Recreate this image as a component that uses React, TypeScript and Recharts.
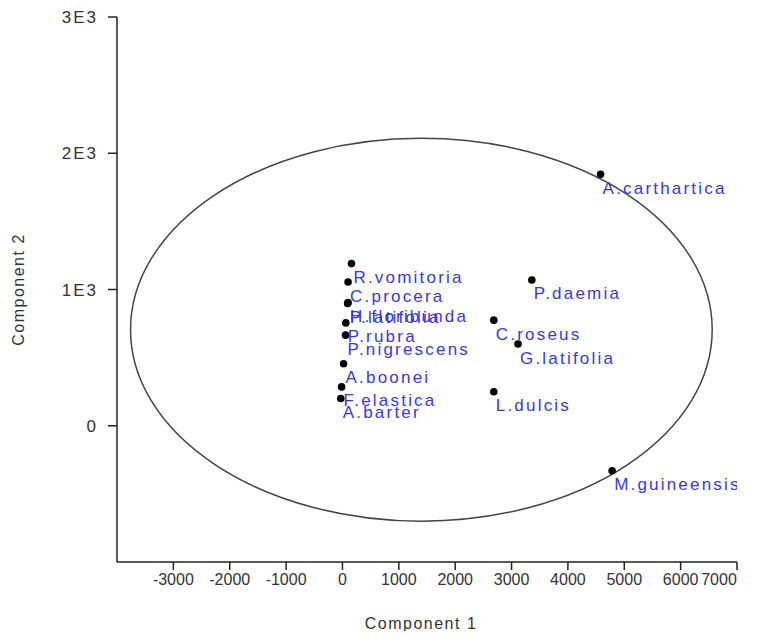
import React from "react";
import {
  ScatterChart,
  Scatter,
  XAxis,
  YAxis,
  ReferenceArea,
} from "recharts";

// Species labels (PCA scores)
const species = [
  "R.vomitoria",
  "C.procera",
  "H.floribunda",
  "P.latifolia",
  "P.rubra",
  "P.nigrescens",
  "A.boonei",
  "F.elastica",
  "A.barter",
  "P.daemia",
  "C.roseus",
  "G.latifolia",
  "L.dulcis",
  "A.carthartica",
  "M.guineensis",
];

// Component 1 scores
const component1 = [160, 100, 100, 92, 60, 55, 20, -15, -30, 3360, 2685, 3115, 2685, 4580, 4785];

// Component 2 scores
const component2 = [1190, 1055, 905, 898, 755, 665, 455, 285, 200, 1070, 775, 600, 250, 1845, -330];

// Axis ticks
const xTickValues = [-3000, -2000, -1000, 0, 1000, 2000, 3000, 4000, 5000, 6000, 7000];
const xTickLabels = ["-3000", "-2000", "-1000", "0", "1000", "2000", "3000", "4000", "5000", "6000", "7000"];
const yTickValues = [0, 1000, 2000, 3000];
const yTickLabels = ["0", "1E3", "2E3", "3E3"];

// Confidence ellipse (center and semi-axes, in data units)
const ellipseCenter = [1400, 705];
const ellipseRadii = [5160, 1405];

const data = species.map((name, i) => ({ name, x: component1[i], y: component2[i] }));

const FONT = '"Liberation Sans", Arial, sans-serif';
const LABEL_COLOR = "#3838e0";

const PointShape = (props: any) => {
  const { cx, cy } = props;
  const name = props.payload?.name ?? props.name;
  return (
    <g>
      <circle cx={cx} cy={cy} r={3.8} fill="#000" />
      <text
        x={cx + 2}
        y={cy + 14}
        dominantBaseline="central"
        fill={LABEL_COLOR}
        fontSize={17}
        letterSpacing={2.2}
        fontFamily={FONT}
      >
        {name}
      </text>
    </g>
  );
};

const XTick = (props: any) => {
  const { x, y, payload } = props;
  const idx = xTickValues.indexOf(payload.value);
  const isLast = idx === xTickValues.length - 1;
  return (
    <text
      x={isLast ? x - 18 : x}
      y={y}
      dy="0.71em"
      textAnchor="middle"
      fill="#333"
      fontSize={16}
      fontFamily={FONT}
    >
      {xTickLabels[idx]}
    </text>
  );
};

const EllipseShape = (props: any) => {
  const x = Math.min(props.x, props.x + props.width);
  const y = Math.min(props.y, props.y + props.height);
  const w = Math.abs(props.width);
  const h = Math.abs(props.height);
  return (
    <ellipse
      cx={x + w / 2}
      cy={y + h / 2}
      rx={w / 2}
      ry={h / 2}
      fill="none"
      stroke="#444"
      strokeWidth={1.5}
    />
  );
};

export default function App() {
  return (
    <div
      style={{
        width: 759,
        height: 639,
        marginLeft: -8,
        marginTop: -8,
        marginBottom: -8,
        background: "#fff",
        overflow: "hidden",
      }}
    >
      <ScatterChart
        width={759}
        height={639}
        margin={{ top: 17, right: 22, bottom: 0, left: 0 }}
        style={{ fontFamily: FONT }}
      >
        <XAxis
          type="number"
          dataKey="x"
          domain={[-4000, 7000]}
          allowDataOverflow
          ticks={xTickValues}
          height={77}
          tickSize={8}
          tickMargin={4}
          axisLine={{ stroke: "#222", strokeWidth: 1.5 }}
          tickLine={{ stroke: "#222", strokeWidth: 1.5 }}
          tick={<XTick />}
          label={{
            value: "Component 1",
            position: "insideBottom",
            offset: 10,
            dx: -6,
            fill: "#333",
            fontSize: 16,
            letterSpacing: 1.5,
            fontFamily: FONT,
          }}
        />
        <YAxis
          type="number"
          dataKey="y"
          domain={[-1000, 3000]}
          allowDataOverflow
          ticks={yTickValues}
          tickFormatter={(v: number) => yTickLabels[yTickValues.indexOf(v)]}
          width={117}
          tickSize={9}
          tickMargin={10}
          axisLine={{ stroke: "#222", strokeWidth: 1.5 }}
          tickLine={{ stroke: "#222", strokeWidth: 1.5 }}
          tick={{ fill: "#333", fontSize: 17, fontFamily: FONT, letterSpacing: 2 }}
          label={{
            value: "Component 2",
            angle: -90,
            position: "insideLeft",
            offset: 18,
            fill: "#333",
            fontSize: 16,
            letterSpacing: 1.5,
            fontFamily: FONT,
            style: { textAnchor: "middle" },
          }}
        />
        <ReferenceArea
          x1={ellipseCenter[0] - ellipseRadii[0]}
          x2={ellipseCenter[0] + ellipseRadii[0]}
          y1={ellipseCenter[1] - ellipseRadii[1]}
          y2={ellipseCenter[1] + ellipseRadii[1]}
          shape={EllipseShape}
        />
        <Scatter data={data} shape={PointShape} isAnimationActive={false} />
      </ScatterChart>
    </div>
  );
}
